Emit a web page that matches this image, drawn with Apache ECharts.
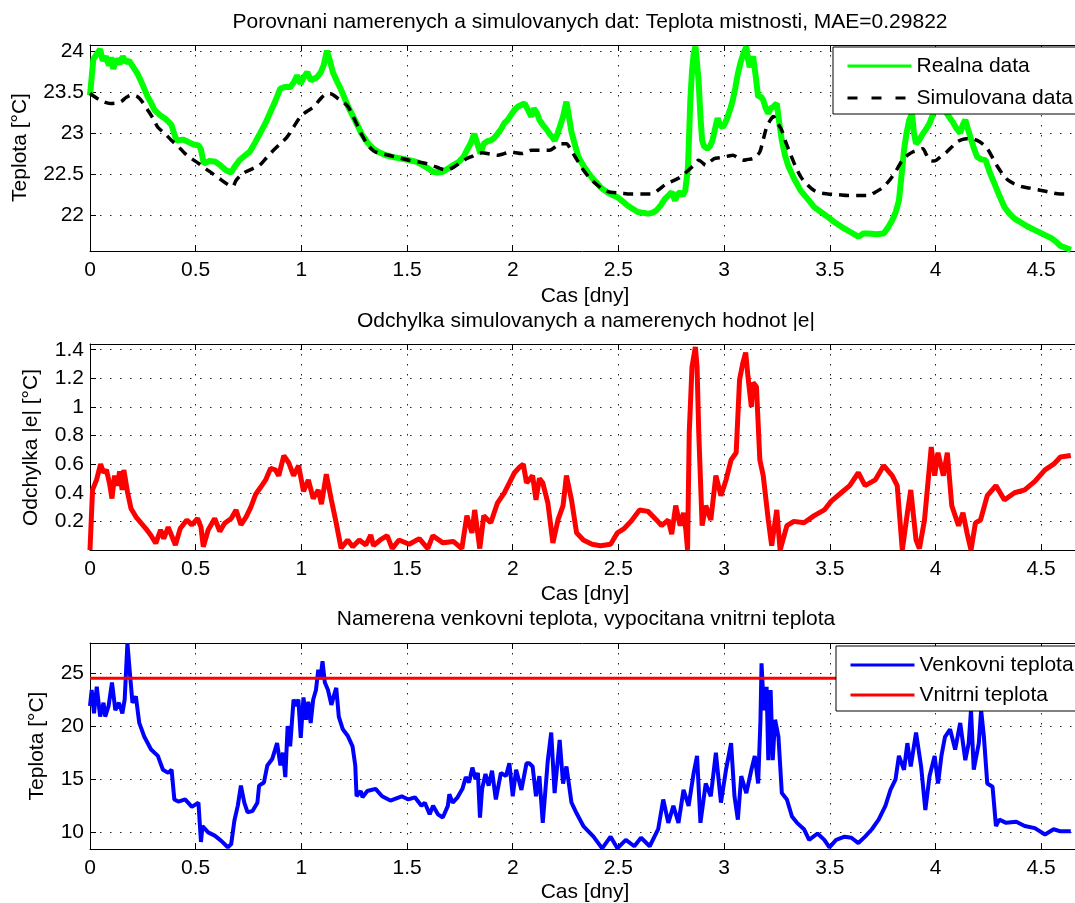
<!DOCTYPE html>
<html>
<head>
<meta charset="utf-8">
<title>Porovnani namerenych a simulovanych dat</title>
<script src="https://cdn.jsdelivr.net/npm/echarts@6/dist/echarts.min.js"></script>
<style>
html, body { margin: 0; padding: 0; background: #fff; }
#chart { width: 1075px; height: 903px; }
</style>
</head>
<body>
<div id="chart"></div>
<script>
// font used by the whole figure (Arial metrics)
var FONT = '"Liberation Sans", Arial, Helvetica, sans-serif';
var FS = 21;

// titles and labels
var titleTop = 'Porovnani namerenych a simulovanych dat: Teplota mistnosti, MAE=0.29822';
var titleMid = 'Odchylka simulovanych a namerenych hodnot |e|';
var titleBot = 'Namerena venkovni teplota, vypocitana vnitrni teplota';
var xName = 'Cas [dny]';
var yNameTop = 'Teplota [°C]';
var yNameMid = 'Odchylka |e| [°C]';
var yNameBot = 'Teplota [°C]';

// --- plot 1: room temperature, real data (green) ---
var realT = [0, 0.016, 0.03, 0.048, 0.06, 0.075, 0.09, 0.1, 0.11, 0.125, 0.14, 0.155, 0.17, 0.185, 0.2, 0.225, 0.25, 0.273, 0.29, 0.305,
    0.33, 0.353, 0.37, 0.385, 0.4, 0.41, 0.44, 0.466, 0.49, 0.514, 0.525, 0.538, 0.565, 0.594, 0.62, 0.642, 0.667, 0.687, 0.707, 0.73,
    0.755, 0.78, 0.803, 0.83, 0.851, 0.875, 0.9, 0.925, 0.948, 0.965, 0.98, 0.996, 1.012, 1.028, 1.045, 1.06, 1.075, 1.092, 1.105, 1.121,
    1.135, 1.149, 1.17, 1.189, 1.205, 1.221, 1.253, 1.285, 1.317, 1.34, 1.365, 1.4, 1.43, 1.47, 1.51, 1.545, 1.574, 1.6, 1.622, 1.645,
    1.67, 1.695, 1.719, 1.745, 1.767, 1.785, 1.8, 1.818, 1.835, 1.847, 1.863, 1.88, 1.896, 1.912, 1.928, 1.945, 1.96, 1.976, 1.992, 2.008,
    2.024, 2.04, 2.056, 2.072, 2.088, 2.1, 2.115, 2.126, 2.142, 2.158, 2.174, 2.19, 2.198, 2.21, 2.222, 2.238, 2.254, 2.266, 2.278, 2.295,
    2.31, 2.335, 2.359, 2.38, 2.399, 2.42, 2.447, 2.47, 2.495, 2.52, 2.543, 2.567, 2.591, 2.615, 2.64, 2.66, 2.68, 2.7, 2.72, 2.736,
    2.752, 2.768, 2.78, 2.792, 2.805, 2.816, 2.829, 2.84, 2.848, 2.856, 2.864, 2.872, 2.88, 2.888, 2.896, 2.905, 2.92, 2.933, 2.945, 2.957,
    2.969, 2.981, 2.993, 3.005, 3.017, 3.03, 3.041, 3.053, 3.065, 3.077, 3.089, 3.105, 3.113, 3.121, 3.129, 3.137, 3.149, 3.161, 3.173, 3.185,
    3.197, 3.209, 3.221, 3.233, 3.249, 3.261, 3.273, 3.289, 3.305, 3.33, 3.362, 3.395, 3.426, 3.458, 3.49, 3.52, 3.555, 3.595, 3.635, 3.66,
    3.683, 3.72, 3.755, 3.775, 3.795, 3.812, 3.827, 3.84, 3.851, 3.863, 3.876, 3.889, 3.898, 3.908, 3.924, 3.94, 3.956, 3.972, 3.984, 3.996,
    4.008, 4.02, 4.037, 4.053, 4.069, 4.085, 4.101, 4.117, 4.129, 4.141, 4.153, 4.165, 4.181, 4.197, 4.217, 4.237, 4.257, 4.278, 4.302, 4.326,
    4.35, 4.374, 4.406, 4.438, 4.47, 4.502, 4.526, 4.55, 4.57, 4.59, 4.64];
var realV = [23.46, 23.9, 23.95, 24.02, 23.88, 23.93, 23.82, 23.92, 23.78, 23.9, 23.84, 23.93, 23.86, 23.88, 23.82, 23.72, 23.58, 23.44, 23.36, 23.28,
    23.22, 23.18, 23.14, 23.1, 22.98, 22.91, 22.92, 22.89, 22.86, 22.85, 22.8, 22.63, 22.66, 22.65, 22.6, 22.55, 22.52, 22.6, 22.67, 22.72,
    22.77, 22.88, 22.99, 23.12, 23.24, 23.38, 23.54, 23.56, 23.56, 23.62, 23.7, 23.6, 23.68, 23.74, 23.64, 23.66, 23.68, 23.74, 23.82, 24.0,
    23.88, 23.74, 23.62, 23.52, 23.42, 23.32, 23.16, 22.99, 22.87, 22.81, 22.77, 22.73, 22.71, 22.69, 22.67, 22.65, 22.61, 22.57, 22.53, 22.52,
    22.53, 22.57, 22.61, 22.65, 22.71, 22.8, 22.87, 22.99, 22.85, 22.75, 22.87, 22.9, 22.91, 22.94, 22.99, 23.05, 23.12, 23.16, 23.22, 23.28,
    23.32, 23.34, 23.36, 23.28, 23.2, 23.3, 23.24, 23.16, 23.1, 23.05, 22.99, 22.94, 22.91, 22.98, 23.07, 23.2, 23.38, 23.2, 23.01, 22.85,
    22.71, 22.6, 22.51, 22.44, 22.39, 22.33, 22.28, 22.25, 22.22, 22.17, 22.12, 22.08, 22.04, 22.03, 22.02, 22.03, 22.06, 22.12, 22.2, 22.24,
    22.28, 22.18, 22.26, 22.28, 22.24, 22.3, 22.58, 23.39, 23.75, 23.96, 24.05, 23.85, 23.6, 23.2, 22.91, 22.84, 22.81, 22.84, 22.91, 23.05,
    23.18, 23.1, 23.07, 23.12, 23.2, 23.3, 23.4, 23.55, 23.72, 23.85, 23.95, 24.05, 23.9, 23.8, 23.88, 23.93, 23.7, 23.44, 23.45, 23.4,
    23.3, 23.24, 23.3, 23.32, 23.36, 23.12, 22.91, 22.72, 22.59, 22.45, 22.3, 22.2, 22.1, 22.04, 21.98, 21.92, 21.86, 21.8, 21.74, 21.78,
    21.78, 21.77, 21.78, 21.85, 21.94, 22.04, 22.18, 22.5, 22.79, 23.0, 23.16, 23.24, 23.0, 22.87, 22.92, 22.99, 23.05, 23.12, 23.2, 23.28,
    23.34, 23.4, 23.3, 23.24, 23.18, 23.12, 23.05, 23.0, 23.1, 23.16, 23.05, 22.95, 22.82, 22.71, 22.68, 22.67, 22.52, 22.39, 22.24, 22.1,
    22.02, 21.96, 21.91, 21.86, 21.82, 21.78, 21.75, 21.72, 21.68, 21.63, 21.58];

// --- plot 1: room temperature, simulated data (black dashed) ---
var simT = [0, 0.048, 0.096, 0.145, 0.17, 0.193, 0.225, 0.25, 0.273, 0.3, 0.321, 0.355, 0.386, 0.42, 0.45, 0.48, 0.514, 0.545, 0.578, 0.61,
    0.643, 0.675, 0.69, 0.707, 0.73, 0.755, 0.78, 0.803, 0.835, 0.868, 0.9, 0.932, 0.965, 0.996, 1.03, 1.06, 1.085, 1.108, 1.133, 1.153,
    1.173, 1.197, 1.221, 1.245, 1.269, 1.29, 1.31, 1.33, 1.35, 1.38, 1.414, 1.46, 1.51, 1.55, 1.59, 1.625, 1.655, 1.687, 1.71, 1.735,
    1.76, 1.783, 1.81, 1.831, 1.855, 1.88, 1.905, 1.928, 1.96, 1.992, 2.015, 2.04, 2.065, 2.088, 2.126, 2.174, 2.2, 2.222, 2.254, 2.27,
    2.286, 2.31, 2.334, 2.365, 2.399, 2.43, 2.463, 2.51, 2.559, 2.61, 2.656, 2.69, 2.72, 2.75, 2.784, 2.81, 2.832, 2.857, 2.88, 2.897,
    2.913, 2.933, 2.953, 2.977, 3.0, 3.02, 3.041, 3.065, 3.089, 3.113, 3.137, 3.153, 3.169, 3.185, 3.201, 3.217, 3.233, 3.253, 3.273, 3.293,
    3.313, 3.337, 3.362, 3.394, 3.426, 3.458, 3.49, 3.54, 3.587, 3.635, 3.683, 3.715, 3.747, 3.771, 3.795, 3.82, 3.843, 3.868, 3.892, 3.916,
    3.94, 3.956, 3.972, 3.988, 4.004, 4.028, 4.053, 4.077, 4.101, 4.125, 4.149, 4.173, 4.197, 4.221, 4.245, 4.27, 4.294, 4.318, 4.342, 4.374,
    4.406, 4.446, 4.486, 4.54, 4.59, 4.64];
var simV = [23.48, 23.4, 23.36, 23.38, 23.43, 23.46, 23.44, 23.37, 23.28, 23.17, 23.07, 22.99, 22.91, 22.83, 22.75, 22.69, 22.63, 22.57, 22.51, 22.45,
    22.39, 22.35, 22.42, 22.47, 22.52, 22.55, 22.58, 22.61, 22.7, 22.79, 22.87, 22.95, 23.08, 23.2, 23.27, 23.32, 23.4, 23.46, 23.48, 23.46,
    23.42, 23.38, 23.32, 23.2, 23.07, 22.96, 22.87, 22.81, 22.77, 22.75, 22.73, 22.7, 22.67, 22.65, 22.63, 22.6, 22.57, 22.55, 22.57, 22.61,
    22.65, 22.69, 22.72, 22.75, 22.76, 22.75, 22.74, 22.73, 22.75, 22.77, 22.76, 22.75, 22.77, 22.79, 22.79, 22.79, 22.83, 22.87, 22.87, 22.82,
    22.75, 22.65, 22.55, 22.45, 22.37, 22.31, 22.28, 22.27, 22.26, 22.26, 22.26, 22.31, 22.37, 22.41, 22.45, 22.5, 22.55, 22.61, 22.67, 22.64,
    22.61, 22.65, 22.69, 22.7, 22.71, 22.72, 22.73, 22.7, 22.67, 22.68, 22.69, 22.72, 22.77, 22.92, 23.07, 23.15, 23.2, 23.12, 23.03, 22.88,
    22.75, 22.6, 22.47, 22.37, 22.3, 22.27, 22.26, 22.25, 22.24, 22.24, 22.24, 22.28, 22.33, 22.39, 22.47, 22.57, 22.67, 22.73, 22.77, 22.79,
    22.81, 22.74, 22.67, 22.66, 22.67, 22.72, 22.77, 22.83, 22.89, 22.92, 22.93, 22.93, 22.91, 22.87, 22.81, 22.7, 22.59, 22.5, 22.43, 22.38,
    22.35, 22.33, 22.31, 22.28, 22.26, 22.26];

// --- plot 2: absolute error |e| (red) ---
var errT = [0, 0.012, 0.031, 0.05, 0.065, 0.078, 0.093, 0.104, 0.116, 0.129, 0.14, 0.152, 0.16, 0.178, 0.194, 0.218, 0.241, 0.264, 0.287, 0.311,
    0.334, 0.349, 0.37, 0.388, 0.404, 0.427, 0.458, 0.482, 0.509, 0.525, 0.536, 0.559, 0.59, 0.614, 0.637, 0.668, 0.691, 0.714, 0.738, 0.761,
    0.784, 0.808, 0.831, 0.854, 0.877, 0.893, 0.917, 0.94, 0.963, 0.987, 1.01, 1.033, 1.056, 1.08, 1.095, 1.118, 1.142, 1.165, 1.188, 1.219,
    1.243, 1.274, 1.305, 1.328, 1.341, 1.373, 1.406, 1.43, 1.462, 1.51, 1.558,
    1.598, 1.622, 1.67, 1.719, 1.759, 1.783, 1.807, 1.82, 1.844, 1.863, 1.896, 1.928, 1.96, 1.984, 2.008, 2.033, 2.05, 2.065, 2.078, 2.094,
    2.11, 2.126, 2.142, 2.166, 2.19, 2.214, 2.238, 2.254, 2.278, 2.302, 2.334, 2.375, 2.415, 2.463, 2.495, 2.527, 2.559, 2.6, 2.64, 2.68,
    2.704, 2.736, 2.752, 2.771, 2.792, 2.808, 2.819, 2.827, 2.835, 2.848, 2.864, 2.872, 2.88, 2.896, 2.913, 2.937, 2.961, 2.985, 3.009, 3.033,
    3.057, 3.073, 3.089, 3.102, 3.113, 3.129, 3.137, 3.153, 3.169, 3.185, 3.209, 3.225, 3.249, 3.265, 3.297, 3.33, 3.378, 3.426, 3.474, 3.506,
    3.554, 3.594, 3.635, 3.667, 3.715, 3.755, 3.795, 3.819, 3.843, 3.867, 3.883, 3.908, 3.924, 3.948, 3.98, 3.996, 4.012, 4.037, 4.056, 4.077,
    4.109, 4.13, 4.149, 4.168, 4.189, 4.213, 4.245, 4.286, 4.326, 4.374, 4.422, 4.47, 4.518, 4.559, 4.591, 4.64];
var errV = [0, 0.42, 0.49, 0.6, 0.54, 0.56, 0.46, 0.36, 0.52, 0.45, 0.55, 0.42, 0.56, 0.4, 0.29, 0.23, 0.19, 0.15, 0.105, 0.047,
    0.14, 0.08, 0.16, 0.094, 0.035, 0.15, 0.21, 0.176, 0.22, 0.16, 0.023, 0.14, 0.22, 0.13, 0.187, 0.22, 0.28, 0.176, 0.23, 0.3,
    0.39, 0.44, 0.49, 0.57, 0.56, 0.52, 0.66, 0.61, 0.52, 0.59, 0.41, 0.49, 0.36, 0.42, 0.32, 0.53, 0.35, 0.187, 0.012, 0.07,
    0.023, 0.07, 0.035, 0.105, 0.03, 0.07, 0.1, 0.01, 0.07, 0.04, 0.08,
    0.01, 0.1, 0.05, 0.06, 0.01, 0.24, 0.12, 0.28, 0.01, 0.24, 0.19, 0.33, 0.4, 0.47, 0.54, 0.58, 0.6, 0.47, 0.49, 0.52,
    0.35, 0.5, 0.47, 0.33, 0.05, 0.21, 0.31, 0.52, 0.35, 0.12, 0.07, 0.04, 0.03, 0.04, 0.12, 0.15, 0.2, 0.28, 0.27, 0.21,
    0.17, 0.21, 0.11, 0.31, 0.17, 0.26, 0.14, 0.0, 0.82, 1.28, 1.42, 1.28, 0.82, 0.17, 0.31, 0.21, 0.52, 0.38, 0.49, 0.63,
    0.68, 1.19, 1.31, 1.38, 1.21, 1.0, 1.17, 1.14, 0.63, 0.52, 0.21, 0.03, 0.28, 0.0, 0.17, 0.2, 0.19, 0.24, 0.28, 0.34,
    0.4, 0.45, 0.54, 0.45, 0.49, 0.59, 0.52, 0.45, 0.0, 0.26, 0.42, 0.07, 0.01, 0.21, 0.72, 0.52, 0.68, 0.52, 0.68, 0.31,
    0.17, 0.26, 0.12, 0.0, 0.19, 0.21, 0.38, 0.45, 0.35, 0.4, 0.42, 0.48, 0.56, 0.6, 0.65, 0.66];

// --- plot 3: outdoor temperature (blue) ---
var outT = [0, 0.008, 0.019, 0.032, 0.048, 0.064, 0.072, 0.088, 0.104, 0.12, 0.137, 0.153, 0.164, 0.177, 0.19, 0.201, 0.217, 0.233, 0.257, 0.289,
    0.321, 0.345, 0.37, 0.386, 0.399, 0.418, 0.45, 0.482, 0.513, 0.525, 0.532, 0.559, 0.59, 0.621, 0.652, 0.668, 0.683, 0.699, 0.714, 0.73,
    0.745, 0.768, 0.792, 0.8, 0.823, 0.839, 0.862, 0.885, 0.901, 0.913, 0.924, 0.935, 0.947, 0.963, 0.975, 0.986, 0.997, 1.01, 1.022, 1.033,
    1.044, 1.056, 1.069, 1.08, 1.09, 1.1, 1.111, 1.126, 1.142, 1.153, 1.165, 1.177, 1.196, 1.219, 1.242, 1.255, 1.261, 1.281, 1.289, 1.312,
    1.351, 1.382, 1.421, 1.475, 1.506, 1.537, 1.568, 1.584, 1.607, 1.623, 1.646, 1.669, 1.693, 1.7, 1.716, 1.739, 1.762, 1.778, 1.793, 1.809,
    1.824, 1.835, 1.845, 1.855, 1.871, 1.886, 1.902, 1.92, 1.944, 1.968, 1.984, 2.0,
    2.016, 2.041, 2.065, 2.078, 2.094, 2.11, 2.126, 2.142, 2.166, 2.182, 2.198, 2.222, 2.238, 2.254, 2.278, 2.302, 2.334, 2.382, 2.423, 2.463,
    2.495, 2.535, 2.575, 2.607, 2.648, 2.688, 2.712, 2.736, 2.76, 2.784, 2.808, 2.832, 2.856, 2.872, 2.888, 2.913, 2.937, 2.961, 2.985, 3.009,
    3.033, 3.049, 3.065, 3.081, 3.105, 3.129, 3.145, 3.161, 3.172, 3.177, 3.188, 3.201, 3.209, 3.22, 3.23, 3.241, 3.257, 3.273, 3.297, 3.321,
    3.345, 3.378, 3.402, 3.442, 3.474, 3.498, 3.53, 3.57, 3.602, 3.635, 3.667, 3.699, 3.731, 3.763, 3.787, 3.811, 3.827, 3.851, 3.867, 3.883,
    3.908, 3.932, 3.952, 3.972, 3.996, 4.012, 4.028, 4.045, 4.069, 4.093, 4.117, 4.141, 4.157, 4.168, 4.181, 4.205, 4.216, 4.229, 4.245, 4.27,
    4.286, 4.302, 4.334, 4.382, 4.422, 4.47, 4.518, 4.559, 4.591, 4.64];
var outV = [21.9, 23.4, 21.2, 23.7, 20.9, 22.2, 20.9, 21.9, 24.1, 21.5, 22.2, 21.2, 22.5, 27.8, 24.7, 22.2, 22.8, 20.3, 19.0, 17.8,
    17.2, 15.9, 15.6, 15.9, 13.1, 12.9, 13.1, 12.4, 12.8, 9.1, 10.6, 10.0, 9.7, 9.2, 8.6, 8.9, 11.1, 12.5, 14.4, 12.8,
    11.9, 12.0, 12.8, 14.4, 14.7, 16.3, 16.9, 18.4, 16.3, 17.5, 15.2, 20.0, 18.1, 22.5, 21.9, 22.5, 18.9, 22.7, 20.6, 22.3,
    20.3, 22.5, 23.4, 25.3, 24.4, 26.1, 24.1, 23.4, 22.0, 22.8, 23.6, 20.9, 19.7, 19.1, 18.1, 16.3, 13.4, 13.9, 13.3, 13.9,
    14.1, 13.4, 13.0, 13.4, 13.1, 13.3, 12.5, 12.8, 11.7, 12.5, 11.7, 11.4, 12.5, 13.6, 12.8, 13.3, 14.1, 15.2, 14.7, 16.1,
    15.0, 15.6, 11.4, 14.1, 15.5, 14.4, 15.8, 13.1, 15.6, 15.3, 16.5, 13.4,
    15.9, 14.0, 16.5, 16.5, 16.2, 13.4, 15.3, 10.9, 16.8, 19.4, 13.7, 18.7, 14.6, 16.2, 12.8, 11.8, 10.6, 9.6, 8.5, 9.6,
    8.5, 9.3, 8.7, 9.5, 8.7, 10.3, 13.1, 10.9, 12.5, 10.9, 14.0, 12.5, 15.6, 17.2, 10.9, 14.6, 13.4, 17.5, 12.8, 15.9,
    18.4, 13.4, 11.2, 15.3, 13.7, 15.9, 17.2, 14.6, 20.6, 25.9, 21.5, 23.7, 16.8, 23.4, 16.8, 20.6, 19.0, 13.7, 13.1, 11.5,
    10.9, 10.3, 9.3, 9.9, 9.3, 8.6, 9.3, 9.6, 9.5, 9.0, 9.6, 10.3, 11.2, 12.5, 14.0, 15.0, 17.2, 15.9, 18.4, 16.2,
    19.4, 16.2, 12.1, 15.3, 17.2, 14.6, 17.2, 19.0, 19.7, 17.8, 20.3, 16.8, 18.4, 21.5, 15.9, 18.4, 21.5, 19.0, 14.6, 14.3,
    10.6, 11.2, 10.9, 11.0, 10.6, 10.4, 9.8, 10.3, 10.1, 10.1];

// --- plot 3: computed indoor temperature (red, constant) ---
var inT = [0, 4.64];
var inV = [24.5, 24.5];

function zip(t, v) {
    return t.map(function(x, i) { return [x, v[i]]; });
}

var X_MAX = 4.66;
var GRID_LEFT = 90, GRID_W = 1000, GRID_H = 206;
var gridTops = [45, 344, 643];

var dotted = { color: '#222', width: 1, type: [1.5, 8.5] };
var labelStyle = { color: '#000', fontFamily: FONT, fontSize: FS };

function bottomAxis(gi) {
    return {
        type: 'value', gridIndex: gi, position: 'bottom', min: 0, max: X_MAX, interval: 0.5,
        axisLine: { show: true, lineStyle: { color: '#000', width: 1 } },
        axisTick: { show: true, inside: true, length: 6, lineStyle: { color: '#000' } },
        axisLabel: Object.assign({ margin: 9, showMaxLabel: false }, labelStyle),
        splitLine: { show: true, lineStyle: dotted }
    };
}
function topAxis(gi) {
    return {
        type: 'value', gridIndex: gi, position: 'top', min: 0, max: X_MAX, interval: 0.5,
        axisLine: { show: true, lineStyle: { color: '#000', width: 1 } },
        axisTick: { show: true, inside: true, length: 6, lineStyle: { color: '#000' } },
        axisLabel: { show: false },
        splitLine: { show: false }
    };
}
function leftAxis(gi, min, max, step, split) {
    return {
        type: 'value', gridIndex: gi, min: min, max: max,
        minInterval: step, maxInterval: step, splitNumber: split,
        axisLine: { show: true, lineStyle: { color: '#000', width: 1 } },
        axisTick: { show: true, inside: true, length: 6, lineStyle: { color: '#000' } },
        axisLabel: Object.assign({ margin: 6, showMinLabel: false, showMaxLabel: false }, labelStyle),
        splitLine: { show: true, lineStyle: dotted }
    };
}

function txt(text, x, y, rot) {
    return {
        type: 'text', x: x, y: y, rotation: rot || 0, z: 100,
        style: { text: text, fill: '#000', fontFamily: FONT, fontSize: FS, align: 'center', verticalAlign: 'middle' }
    };
}

// legend box in the MATLAB style: a line sample only, no marker
function legendBox(left, top, gap, items) {
    return {
        orient: 'vertical', left: left, top: top,
        padding: [8, 40, 5, 13], itemWidth: 64, itemHeight: 22, itemGap: gap,
        backgroundColor: '#fff', borderColor: '#000', borderWidth: 1, borderRadius: 0,
        textStyle: { color: '#000', fontFamily: FONT, fontSize: FS, lineHeight: 22 },
        itemStyle: { opacity: 0, borderWidth: 0 },
        selectedMode: false,
        data: items
    };
}

var chart = echarts.init(document.getElementById('chart'));
var option = {
    animation: false,
    backgroundColor: '#fff',
    grid: gridTops.map(function(t) {
        return { left: GRID_LEFT, top: t, width: GRID_W, height: GRID_H, containLabel: false };
    }),
    xAxis: [bottomAxis(0), topAxis(0), bottomAxis(1), topAxis(1), bottomAxis(2), topAxis(2)],
    yAxis: [
        leftAxis(0, 21.566, 24.07, 0.5, 5),
        leftAxis(1, 0, 1.44, 0.2, 7),
        leftAxis(2, 8.44, 27.82, 5, 4)
    ],
    legend: [
        legendBox(833, 47, 10, [
            { name: 'Realna data', lineStyle: { width: 3 } },
            { name: 'Simulovana data', lineStyle: { width: 3, type: [10, 14] } }
        ]),
        legendBox(836, 646, 8, [
            { name: 'Venkovni teplota', lineStyle: { width: 3 } },
            { name: 'Vnitrni teplota', lineStyle: { width: 3 } }
        ])
    ],
    series: [
        {
            name: 'Realna data', type: 'line', xAxisIndex: 0, yAxisIndex: 0, data: zip(realT, realV),
            showSymbol: false, symbol: 'none', color: '#00ff00',
            lineStyle: { color: '#00ff00', width: 6 }, z: 2
        },
        {
            name: 'Simulovana data', type: 'line', xAxisIndex: 0, yAxisIndex: 0, data: zip(simT, simV),
            showSymbol: false, symbol: 'none', smooth: 0.3, color: '#000',
            lineStyle: { color: '#000', width: 3.5, type: [10, 7] }, z: 3
        },
        {
            name: 'Odchylka', type: 'line', xAxisIndex: 2, yAxisIndex: 1, data: zip(errT, errV),
            showSymbol: false, symbol: 'none', color: '#ff0000',
            lineStyle: { color: '#ff0000', width: 5 }
        },
        {
            name: 'Venkovni teplota', type: 'line', xAxisIndex: 4, yAxisIndex: 2, data: zip(outT, outV),
            showSymbol: false, symbol: 'none', color: '#0000ff',
            lineStyle: { color: '#0000ff', width: 4 }
        },
        {
            name: 'Vnitrni teplota', type: 'line', xAxisIndex: 4, yAxisIndex: 2, data: zip(inT, inV),
            showSymbol: false, symbol: 'none', color: '#ff0000',
            lineStyle: { color: '#ff0000', width: 3 }
        }
    ],
    graphic: [
        txt(titleTop, 590, 22),
        txt(titleMid, 586, 321),
        txt(titleBot, 586, 619.5),
        txt(xName, 585, 296),
        txt(xName, 585, 594.5),
        txt(xName, 585, 892.5),
        txt(yNameTop, 20, 147.5, Math.PI / 2),
        txt(yNameMid, 31, 447.5, Math.PI / 2),
        txt(yNameBot, 37, 746, Math.PI / 2)
    ]
};
chart.setOption(option);
</script>
</body>
</html>
